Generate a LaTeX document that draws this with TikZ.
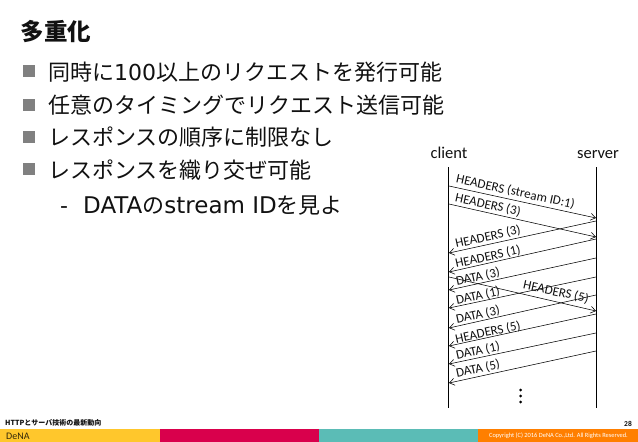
\documentclass[tikz,border=0pt]{standalone}
\usepackage{fontspec}
\setmainfont{DejaVu Sans}
\newfontfamily\jpfont{Noto Sans CJK JP}
\newfontfamily\calfont{Carlito}
\newfontfamily\vfont{DejaVu Sans}
\definecolor{bargold}{HTML}{FFC72C}
\definecolor{barred}{HTML}{D9004C}
\definecolor{barteal}{HTML}{5BBCB6}
\definecolor{barorange}{HTML}{FF7F00}
\definecolor{txt}{HTML}{111111}
\usetikzlibrary{arrows.meta}
\tikzset{
  x=1pt,y=-1pt,
  titletext/.style={anchor=west,inner sep=0,font=\jpfont\bfseries\fontsize{23.5}{25}\selectfont,text=txt},
  bodytext/.style={anchor=base west,inner sep=0,font=\jpfont\fontsize{22}{24}\selectfont,text=txt},
  bullet/.style={fill=black!50,draw=none,minimum size=12pt,inner sep=0},
  party/.style={inner sep=0,anchor=base,font=\calfont\fontsize{16.5}{16.5}\selectfont,text=txt},
  lifeline/.style={line width=1.1pt,black},
  msg/.style={line width=0.55pt,black,-{Straight Barb[length=5pt,width=7pt,line width=0.55pt]}},
  msglabel/.style={inner sep=0,font=\calfont\fontsize{13}{13}\selectfont,text=txt},
  foot/.style={inner sep=0,font=\jpfont\bfseries\fontsize{7}{7}\selectfont,text=txt}
}
\begin{document}
\begin{tikzpicture}
\useasboundingbox (0,0) rectangle (638,442);
\fill[white] (0,0) rectangle (638,442);
% footer bars
\fill[bargold] (0,429) rectangle (160,442);
\fill[barred] (160,429) rectangle (319,442);
\fill[barteal] (319,429) rectangle (478,442);
\fill[barorange] (478,429) rectangle (638,442);
\node[foot,anchor=west] (ft) at (5,422.5) {HTTPとサーバ技術の最新動向};
\node[foot,anchor=east,font=\calfont\bfseries\fontsize{7.5}{7.5}\selectfont] (pg) at (632,423.5) {28};
\node[inner sep=0,anchor=east,text=white,font=\calfont\fontsize{6.4}{6.4}\selectfont] (cp) at (628,436) {Copyright (C) 2016 DeNA Co.,Ltd. All Rights Reserved.};
\node[inner sep=0,anchor=west,text=black!80!bargold,font=\calfont\fontsize{10}{10}\selectfont] (logo) at (6,436) {DeNA};
% title and bullets
\node[titletext] (title) at (20.5,32) {多重化};
\node[bullet] (b1) at (29,71) {};
\node[bullet] (b2) at (29,105) {};
\node[bullet] (b3) at (29,137) {};
\node[bullet] (b4) at (29,169) {};
\node[bodytext] (t1) at (48,80.5) {同時に{\vfont 100}以上のリクエストを発行可能};
\node[bodytext] (t2) at (48,113.5) {任意のタイミングでリクエスト送信可能};
\node[bodytext] (t3) at (48,145.5) {レスポンスの順序に制限なし};
\node[bodytext] (t4) at (48,178.5) {レスポンスを織り交ぜ可能};
\node[bodytext] (dash) at (60,213.5) {\vfont -};
\node[bodytext] (t5) at (83,213.5) {{\vfont\fontsize{23}{24}\selectfont DATA}の{\vfont\fontsize{23}{24}\selectfont stream ID}を見よ};
% parties
\node[party] (client) at (449,158) {client};
\node[party] (server) at (598,158) {server};
\coordinate (ct) at (448.7,167); \coordinate (cb) at (448.7,408);
\coordinate (st) at (596.7,167); \coordinate (sb) at (596.7,408);
\draw[lifeline] (ct) -- (cb);
\draw[lifeline] (st) -- (sb);
% client to server
\coordinate (a1) at (449,186); \coordinate (a1e) at (596,218);
\coordinate (a2) at (449,204); \coordinate (a2e) at (596,237);
\coordinate (a3) at (449,277); \coordinate (a3e) at (596,311);
\draw[msg] (a1) -- (a1e);
\draw[msg] (a2) -- (a2e);
\draw[msg] (a3) -- (a3e);
% server to client
\foreach \n/\ys/\ye in {1/221/253,2/239/272,3/258/290,4/277/308,5/295/328,6/314/346,7/333/364,8/351/383}{
  \coordinate (s\n) at (596,\ys);
  \coordinate (e\n) at (449,\ye);
  \draw[msg] (s\n) -- (e\n);
}
% labels
\node[msglabel,rotate=-12.3] (l1) at (515.5,192) {HEADERS (stream ID:1)};
\node[msglabel,rotate=-12.3] (l2) at (488,205) {HEADERS (3)};
\node[msglabel,rotate=-12.3] (l3) at (556,292) {HEADERS (5)};
\node[msglabel,rotate=12.3] (r1) at (488,237) {HEADERS (3)};
\node[msglabel,rotate=12.3] (r2) at (488,257) {HEADERS (1)};
\node[msglabel,rotate=12.3] (r3) at (478,277) {DATA (3)};
\node[msglabel,rotate=12.3] (r4) at (478,296) {DATA (1)};
\node[msglabel,rotate=12.3] (r5) at (478,315) {DATA (3)};
\node[msglabel,rotate=12.3] (r6) at (488,332.5) {HEADERS (5)};
\node[msglabel,rotate=12.3] (r7) at (478,351) {DATA (1)};
\node[msglabel,rotate=12.3] (r8) at (478,369) {DATA (5)};
% ellipsis
\fill (520.7,390) circle (1.5);
\fill (520.7,396) circle (1.5);
\fill (520.7,402) circle (1.5);
\end{tikzpicture}
\end{document}
